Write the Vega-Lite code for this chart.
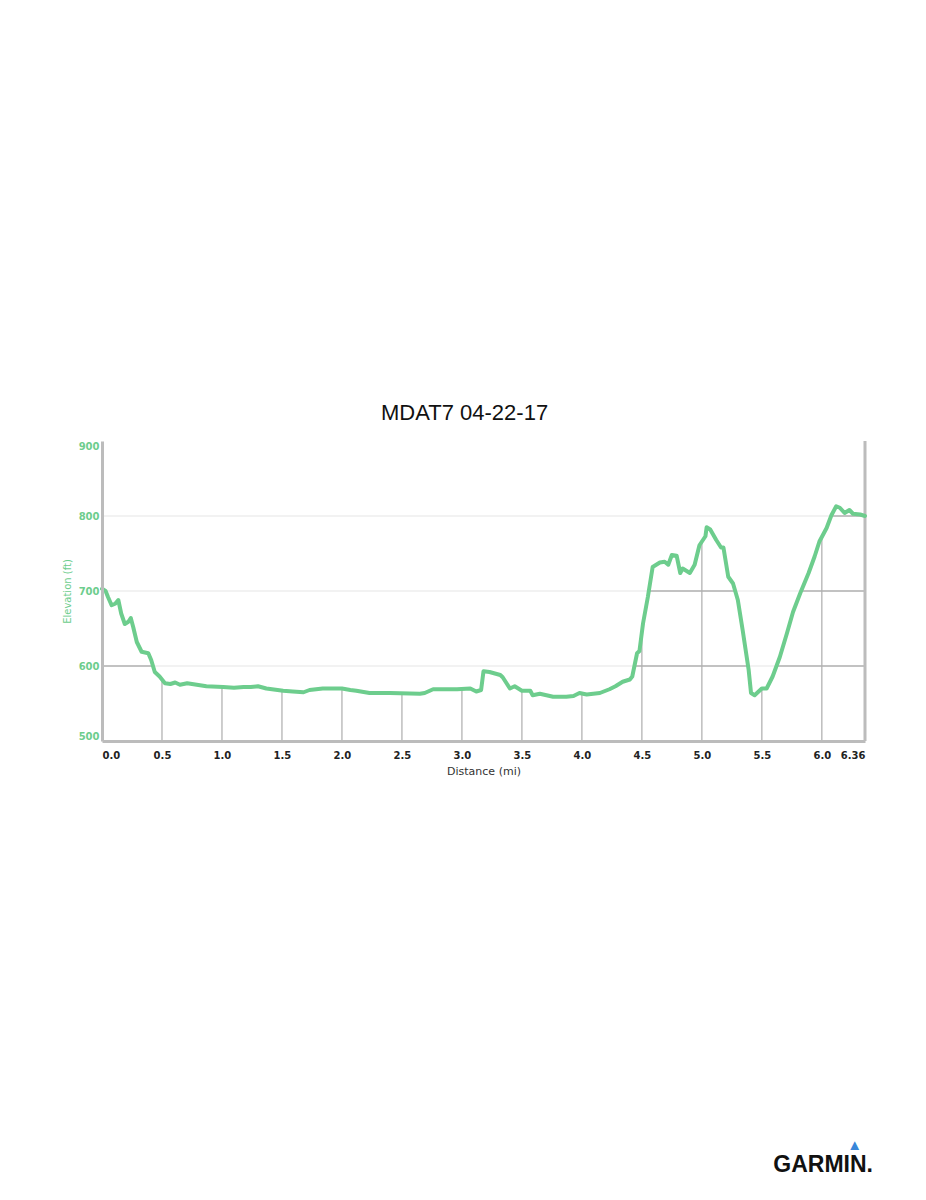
{
  "$schema": "https://vega.github.io/schema/vega-lite/v6.json",
  "background": "white",
  "padding": {"top": 401, "left": 62, "right": 40, "bottom": 20},
  "autosize": {"type": "pad"},
  "title": {
    "text": "▲\u2800",
    "subtitle": "GARMIN.",
    "orient": "bottom",
    "anchor": "end",
    "frame": "bounds",
    "offset": 362,
    "dx": 6,
    "color": "#3a86d9",
    "fontSize": 15,
    "font": "Liberation Sans",
    "subtitleColor": "#111111",
    "subtitleFont": "Liberation Sans",
    "subtitleFontWeight": "bold",
    "subtitleFontSize": 23,
    "subtitlePadding": 1
  },
  "datasets": {
    "profile": [
      {"d": 0.0, "e": 703}, {"d": 0.03, "e": 700}, {"d": 0.05, "e": 692}, {"d": 0.08, "e": 681},
      {"d": 0.11, "e": 683}, {"d": 0.136, "e": 688}, {"d": 0.16, "e": 670}, {"d": 0.19, "e": 656},
      {"d": 0.22, "e": 659}, {"d": 0.24, "e": 664}, {"d": 0.26, "e": 652}, {"d": 0.29, "e": 632},
      {"d": 0.33, "e": 619}, {"d": 0.386, "e": 617}, {"d": 0.41, "e": 608}, {"d": 0.44, "e": 592},
      {"d": 0.48, "e": 586}, {"d": 0.525, "e": 577}, {"d": 0.57, "e": 576}, {"d": 0.61, "e": 578},
      {"d": 0.65, "e": 575}, {"d": 0.71, "e": 577}, {"d": 0.79, "e": 575}, {"d": 0.87, "e": 573},
      {"d": 1.01, "e": 572}, {"d": 1.1, "e": 571}, {"d": 1.18, "e": 572}, {"d": 1.24, "e": 572},
      {"d": 1.3, "e": 573}, {"d": 1.37, "e": 570}, {"d": 1.51, "e": 567}, {"d": 1.59, "e": 566},
      {"d": 1.68, "e": 565}, {"d": 1.73, "e": 568}, {"d": 1.84, "e": 570}, {"d": 1.95, "e": 570},
      {"d": 2.0, "e": 570}, {"d": 2.07, "e": 568}, {"d": 2.12, "e": 567}, {"d": 2.23, "e": 564},
      {"d": 2.4, "e": 564}, {"d": 2.65, "e": 563}, {"d": 2.69, "e": 564}, {"d": 2.76, "e": 569},
      {"d": 2.87, "e": 569}, {"d": 2.96, "e": 569}, {"d": 3.07, "e": 570}, {"d": 3.12, "e": 566},
      {"d": 3.16, "e": 568}, {"d": 3.18, "e": 593}, {"d": 3.23, "e": 592}, {"d": 3.32, "e": 588},
      {"d": 3.34, "e": 585}, {"d": 3.4, "e": 570}, {"d": 3.44, "e": 573}, {"d": 3.5, "e": 567},
      {"d": 3.57, "e": 567}, {"d": 3.59, "e": 561}, {"d": 3.65, "e": 563}, {"d": 3.76, "e": 559},
      {"d": 3.87, "e": 559}, {"d": 3.93, "e": 560}, {"d": 3.98, "e": 564}, {"d": 4.04, "e": 562},
      {"d": 4.15, "e": 564}, {"d": 4.23, "e": 569}, {"d": 4.28, "e": 573}, {"d": 4.34, "e": 579},
      {"d": 4.4, "e": 582}, {"d": 4.42, "e": 586}, {"d": 4.46, "e": 617}, {"d": 4.48, "e": 620},
      {"d": 4.51, "e": 657}, {"d": 4.55, "e": 692}, {"d": 4.59, "e": 732}, {"d": 4.65, "e": 738},
      {"d": 4.69, "e": 739}, {"d": 4.72, "e": 735}, {"d": 4.75, "e": 748}, {"d": 4.79, "e": 747},
      {"d": 4.82, "e": 724}, {"d": 4.84, "e": 730}, {"d": 4.9, "e": 724}, {"d": 4.94, "e": 735},
      {"d": 4.98, "e": 761}, {"d": 5.03, "e": 773}, {"d": 5.04, "e": 785}, {"d": 5.07, "e": 782},
      {"d": 5.12, "e": 768}, {"d": 5.16, "e": 758}, {"d": 5.18, "e": 758}, {"d": 5.22, "e": 719},
      {"d": 5.26, "e": 710}, {"d": 5.3, "e": 688}, {"d": 5.34, "e": 648}, {"d": 5.39, "e": 595},
      {"d": 5.41, "e": 564}, {"d": 5.44, "e": 561}, {"d": 5.5, "e": 570}, {"d": 5.54, "e": 570},
      {"d": 5.59, "e": 586}, {"d": 5.65, "e": 612}, {"d": 5.71, "e": 644}, {"d": 5.76, "e": 672},
      {"d": 5.82, "e": 697}, {"d": 5.89, "e": 724}, {"d": 5.94, "e": 746}, {"d": 5.98, "e": 766},
      {"d": 6.04, "e": 784}, {"d": 6.08, "e": 801}, {"d": 6.12, "e": 813}, {"d": 6.15, "e": 811},
      {"d": 6.19, "e": 804}, {"d": 6.23, "e": 808}, {"d": 6.26, "e": 803}, {"d": 6.32, "e": 802},
      {"d": 6.36, "e": 800}
    ],
    "gridX": [
      {"g": 0.5}, {"g": 1.0}, {"g": 1.5}, {"g": 2.0}, {"g": 2.5}, {"g": 3.0},
      {"g": 3.5}, {"g": 4.0}, {"g": 4.5}, {"g": 5.0}, {"g": 5.5}, {"g": 6.0}
    ],
    "gridY": [{"h": 600}, {"h": 700}, {"h": 800}],
    "edge": [{"g": 6.36}]
  },
  "vconcat": [
    {
      "title": {
        "text": "MDAT7 04-22-17",
        "font": "Liberation Sans",
        "fontSize": 22,
        "fontWeight": "normal",
        "color": "#111111",
        "anchor": "middle",
        "frame": "bounds",
        "offset": 15
      },
      "width": 763,
      "height": 300,
      "layer": [
        {
          "data": {"name": "gridX"},
          "mark": {"type": "rule", "color": "#bdbdbd", "strokeWidth": 1.5},
          "encoding": {"x": {"field": "g", "type": "quantitative"}}
        },
        {
          "data": {"name": "gridY"},
          "mark": {"type": "rule", "color": "#bdbdbd", "strokeWidth": 1.5},
          "encoding": {"y": {"field": "h", "type": "quantitative"}}
        },
        {
          "data": {"name": "profile"},
          "mark": {"type": "area", "color": "white", "opacity": 1},
          "encoding": {
            "x": {"field": "d", "type": "quantitative"},
            "y": {"field": "e", "type": "quantitative"},
            "y2": {"datum": 900}
          }
        },
        {
          "data": {"name": "gridY"},
          "mark": {"type": "rule", "color": "#000000", "strokeOpacity": 0.07, "strokeWidth": 1.5},
          "encoding": {"y": {"field": "h", "type": "quantitative"}}
        },
        {
          "data": {"name": "edge"},
          "mark": {"type": "rule", "color": "#bcbcbc", "strokeWidth": 3},
          "encoding": {"x": {"field": "g", "type": "quantitative"}}
        },
        {
          "data": {"name": "profile"},
          "mark": {"type": "line", "color": "#6dcd8d", "strokeWidth": 4, "strokeJoin": "round", "strokeCap": "round"},
          "encoding": {
            "x": {
              "field": "d",
              "type": "quantitative",
              "scale": {"domain": [0, 6.36], "nice": false, "zero": false},
              "axis": {
                "title": "Distance (mi)",
                "values": [0, 0.5, 1, 1.5, 2, 2.5, 3, 3.5, 4, 4.5, 5, 5.5, 6, 6.36],
                "labelExpr": "datum.value == 6.36 ? '6.36' : format(datum.value, '.1f')",
                "labelFlush": true,
                "labelOverlap": false,
                "grid": false,
                "ticks": false,
                "domainColor": "#bcbcbc",
                "domainWidth": 3,
                "labelFont": "DejaVu Sans",
                "labelFontSize": 10,
                "labelFontWeight": "bold",
                "labelColor": "#222222",
                "labelPadding": 9,
                "titleFont": "DejaVu Sans",
                "titleFontSize": 11,
                "titleFontWeight": "normal",
                "titleColor": "#333333",
                "titlePadding": 5,
                "zindex": 1
              }
            },
            "y": {
              "field": "e",
              "type": "quantitative",
              "scale": {"domain": [500, 900], "nice": false, "zero": false},
              "axis": {
                "title": "Elevation (ft)",
                "values": [500, 600, 700, 800, 900],
                "labelFlush": true,
                "grid": false,
                "ticks": false,
                "domainColor": "#bcbcbc",
                "domainWidth": 3,
                "labelFont": "DejaVu Sans",
                "labelFontSize": 10,
                "labelFontWeight": "bold",
                "labelColor": "#6dcd8d",
                "labelPadding": 3,
                "titleFont": "DejaVu Sans",
                "titleFontSize": 10,
                "titleFontWeight": "normal",
                "titleColor": "#6dcd8d",
                "titlePadding": 6,
                "zindex": 1
              }
            }
          }
        }
      ]
    }
  ],
  "config": {"view": {"stroke": null}}
}
